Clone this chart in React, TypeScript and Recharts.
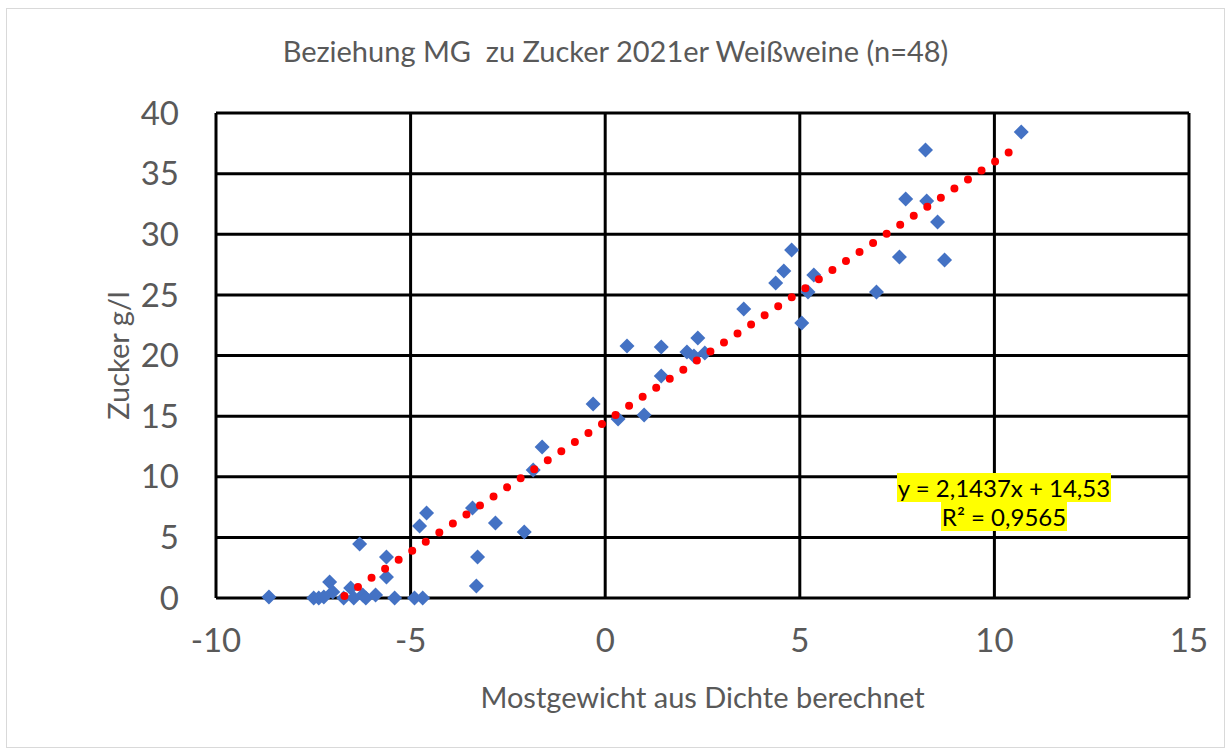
import { ScatterChart, Scatter, XAxis, YAxis, CartesianGrid } from 'recharts'

// Mostgewicht (x) und Zucker g/l (y)
const mostgewicht = [
  -8.64, -7.49, -7.36, -7.23, -7.08, -7.0, -6.72, -6.54, -6.46, -6.23, -6.15, -5.9, -6.31,
  -5.62, -5.62, -5.41, -4.9, -4.69, -4.77, -4.59, -3.41, -3.28, -3.31, -2.82, -2.08, -1.85,
  -1.62, -0.31, 0.33, 1.0, 0.56, 1.44, 1.44, 2.1, 2.28, 2.38, 2.56, 3.56, 4.38, 4.59, 4.79,
  5.05, 5.21, 5.36, 6.97, 7.56, 7.72, 8.23, 8.26, 8.54, 8.72, 10.69,
]
const zucker = [
  0.08, 0, 0, 0.08, 1.32, 0.49, 0, 0.82, 0, 0.25, 0, 0.25, 4.45, 3.38, 1.73, 0, 0, 0, 5.94,
  7.01, 7.42, 3.38, 0.99, 6.19, 5.44, 10.56, 12.45, 16.0, 14.76, 15.09, 20.78, 20.7, 18.31,
  20.29, 19.96, 21.44, 20.21, 23.84, 25.98, 26.97, 28.7, 22.68, 25.24, 26.64, 25.24, 28.12,
  32.91, 36.95, 32.74, 31.01, 27.88, 38.43,
]

// Trendlinie laut Excel-Gleichung
const slope = 2.1437
const intercept = 14.53
const trendX = [-6.7, 10.5]

const xTicks = [-10, -5, 0, 5, 10, 15]
const yTicks = [0, 5, 10, 15, 20, 25, 30, 35, 40]

const points = mostgewicht.map((x, i) => ({ x, y: zucker[i] }))
const trend = trendX.map((x) => ({ x, y: slope * x + intercept }))

const FONT = 'Lato, "Open Sans", sans-serif'

function Diamond(props: any) {
  const { cx, cy } = props
  const r = 7.5
  return (
    <polygon
      points={`${cx},${cy - r} ${cx + r},${cy} ${cx},${cy + r} ${cx - r},${cy}`}
      fill="#4472C4"
    />
  )
}

export default function App() {
  return (
    <div
      style={{
        position: 'absolute',
        left: 6,
        top: 8,
        width: 1217,
        height: 738,
        border: '1px solid #d9d9d9',
        background: '#fff',
        fontFamily: FONT,
      }}
    >
      <div
        style={{
          position: 'absolute',
          left: 0,
          width: '100%',
          top: 24,
          textAlign: 'center',
          fontSize: 29,
          color: '#595959',
        }}
      >
        Beziehung MG&nbsp;&nbsp;zu Zucker 2021er Weißweine (n=48)
      </div>

      <ScatterChart
        width={1217}
        height={738}
        margin={{ top: 104, right: 35, bottom: 0, left: 0 }}
        style={{ position: 'absolute', left: 0, top: 0 }}
      >
        <CartesianGrid stroke="#000" strokeWidth={3} />
        <XAxis
          type="number"
          dataKey="x"
          domain={[-10, 15]}
          ticks={xTicks}
          axisLine={false}
          tickLine={false}
          tickMargin={25}
          height={149}
          tick={{ fill: '#595959', fontSize: 33, fontFamily: FONT }}
          label={{
            value: 'Mostgewicht aus Dichte berechnet',
            position: 'insideTop',
            offset: 89,
            fill: '#595959',
            fontSize: 29,
            fontFamily: FONT,
          }}
        />
        <YAxis
          type="number"
          dataKey="y"
          domain={[0, 40]}
          ticks={yTicks}
          axisLine={false}
          tickLine={false}
          tickMargin={31}
          width={209}
          tick={{ fill: '#595959', fontSize: 33, fontFamily: FONT }}
          label={{
            value: 'Zucker g/l',
            angle: -90,
            position: 'insideLeft',
            offset: 112,
            fill: '#595959',
            fontSize: 29,
            fontFamily: FONT,
            style: { textAnchor: 'middle' },
          }}
        />
        <Scatter data={points} shape={<Diamond />} isAnimationActive={false} />
        <Scatter
          data={trend}
          shape={() => <g />}
          line={{
            stroke: '#FF0000',
            strokeWidth: 8,
            strokeDasharray: '0 16.3',
            strokeLinecap: 'round',
          }}
          isAnimationActive={false}
        />
      </ScatterChart>

      <div
        style={{
          position: 'absolute',
          left: 867,
          top: 464,
          width: 260,
          textAlign: 'center',
          fontSize: 24,
          lineHeight: '29px',
          color: '#000',
        }}
      >
        <span style={{ background: '#FFFF00', padding: '0 1px' }}>y = 2,1437x + 14,53</span>
        <br />
        <span style={{ background: '#FFFF00', padding: '0 1px' }}>R² = 0,9565</span>
      </div>
    </div>
  )
}
